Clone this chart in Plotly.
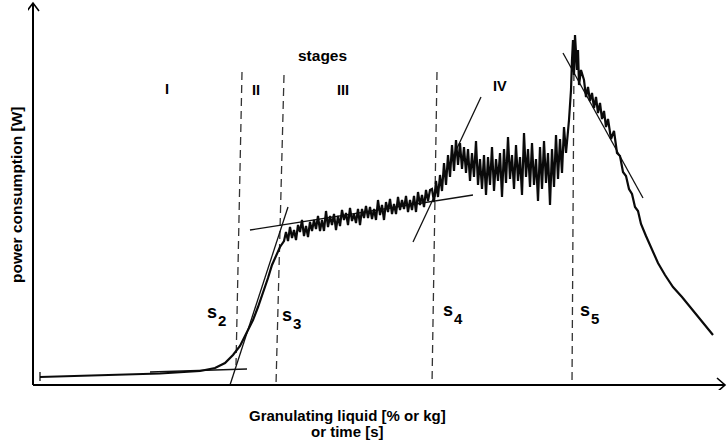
import plotly.graph_objects as go

# ---- data (arbitrary units: liquid amount / power) ----
# smooth part: stage I baseline and stage II rise
liq_rise = [7, 47, 87, 127, 167, 182, 192, 200, 207, 213, 220, 225, 230, 235, 239, 243, 247, 251]
pow_rise = [8, 9, 10, 11.5, 14, 17, 22, 30, 39, 51, 65, 78, 92, 107, 120, 130, 138, 144]

# stage III plateau (noisy)
liq_s3 = [253, 255, 257, 259, 261, 263, 265, 267, 269, 271, 273, 275, 277, 279, 281, 283, 285,
          287, 289, 291, 293, 295, 297, 299, 301, 303, 305, 307, 309, 311, 313, 315, 317, 319,
          321, 323, 325, 327, 329, 331, 333, 335, 337, 339, 341, 343, 345, 347, 349, 351, 353,
          355, 357, 359, 361, 363, 365, 367, 369, 371, 373, 375, 377, 379, 381, 383, 385, 387,
          389, 391, 393, 395, 397]
pow_s3 = [153, 144, 158, 147, 155, 145, 160, 153, 165, 149, 159, 148, 163, 154, 165, 156, 169,
          154, 165, 154, 174, 158, 169, 160, 171, 155, 169, 159, 175, 165, 172, 160, 177, 164,
          171, 162, 176, 160, 176, 167, 179, 167, 178, 166, 176, 165, 185, 170, 180, 165, 183,
          173, 186, 171, 181, 171, 188, 175, 185, 176, 189, 173, 185, 175, 189, 173, 193, 180,
          190, 178, 195, 184, 195]

# stage IV (noisy, higher)
liq_s4 = [399, 401, 403, 405, 407, 409, 411, 413, 415, 417, 419, 421, 423, 425, 427, 429, 431,
          433, 435, 437, 439, 441, 443, 445, 447, 449, 451, 453, 455, 457, 459, 461, 463, 465,
          467, 469, 471, 473, 475, 477, 479, 481, 483, 485, 487, 489, 491, 493, 495, 497, 499,
          501, 503, 505, 507, 509, 511, 513, 515, 517, 519, 521, 523, 525, 527, 529, 531, 533]
pow_s4 = [196, 183, 204, 188, 210, 194, 222, 200, 230, 208, 240, 214, 245, 220, 242, 216, 238,
          212, 236, 204, 232, 208, 244, 200, 226, 196, 230, 190, 228, 200, 238, 194, 226, 204,
          232, 188, 236, 202, 248, 206, 230, 196, 240, 204, 228, 190, 252, 208, 236, 198, 242,
          200, 226, 184, 238, 196, 244, 202, 232, 180, 236, 198, 250, 206, 246, 212, 258, 232]

# peak (stage V)
liq_peak = [536, 538, 539, 540, 541, 542, 544, 545, 546, 548]
pow_peak = [265, 295, 325, 345, 310, 350, 315, 335, 300, 315]

# decline after overwetting
liq_fall = [551, 553, 555, 557, 559, 561, 563, 565, 567, 569, 571, 573, 575, 578, 581, 584, 587,
            590, 593, 596, 599, 602, 605, 608, 613, 619, 625, 632, 640, 649, 657, 665, 673, 680]
pow_fall = [305, 288, 298, 284, 292, 277, 288, 272, 282, 266, 274, 258, 266, 246, 254, 232, 229,
            213, 209, 196, 191, 178, 174, 161, 149, 135, 122, 110, 98, 88, 78, 68, 58, 50]

# tangent lines (pairs of end points)
tangent_x = [[117, 214], [197, 255], [217, 440], [380, 448], [530, 610]]
tangent_y = [[13, 16], [0, 178], [155, 190], [143, 288], [332, 187]]

# stage boundaries s2..s5 (dashed)
bound_names = ["2", "3", "4", "5"]
bound_x = [[209, 203], [251, 243], [404, 399], [541, 539]]
bound_y = [[313, 20], [310, 0], [313, 0], [325, 0]]

stage_names = ["I", "II", "III", "IV"]

liquid = liq_rise + liq_s3 + liq_s4 + liq_peak + liq_fall
power = pow_rise + pow_s3 + pow_s4 + pow_peak + pow_fall

FONT = "Liberation Sans, Arial, Helvetica, sans-serif"

fig = go.Figure()

# dashed stage boundaries
for bx, by in zip(bound_x, bound_y):
    fig.add_trace(go.Scatter(x=bx, y=by, mode="lines",
                             line=dict(color="#333333", width=1.3, dash="8px,5px"),
                             hoverinfo="skip"))

# tangents
for tx, ty in zip(tangent_x, tangent_y):
    fig.add_trace(go.Scatter(x=tx, y=ty, mode="lines",
                             line=dict(color="#111111", width=1.3), hoverinfo="skip"))

# main curve
fig.add_trace(go.Scatter(x=liquid, y=power, mode="lines",
                         line=dict(color="#0a0a0a", width=2.2), hoverinfo="skip"))

shapes = []
# axes
shapes.append(dict(type="line", xref="x", yref="y", x0=0, y0=0, x1=0, y1=382,
                   line=dict(color="black", width=2)))
shapes.append(dict(type="line", xref="x", yref="y", x0=0, y0=0, x1=692, y1=0,
                   line=dict(color="black", width=2)))
# arrow heads (open chevrons)
shapes.append(dict(type="path", xref="x", yref="y", path="M -6,374 L 0,382 L 6,374",
                   line=dict(color="black", width=1.6)))
shapes.append(dict(type="path", xref="x", yref="y", path="M 684,7 L 692,0 L 684,-7",
                   line=dict(color="black", width=1.6)))
# small start mark on the curve
shapes.append(dict(type="line", xref="x", yref="y", x0=7, y0=4, x1=7, y1=13,
                   line=dict(color="black", width=1.2)))

ann = []


def txt(x, y, s, size=14):
    ann.append(dict(x=x, y=y, xref="x", yref="y", text="<b>" + s + "</b>", showarrow=False,
                    xanchor="center", yanchor="middle",
                    font=dict(family=FONT, size=size, color="black")))


txt(289, 330, "stages", 15.5)
for name, (lx, ly) in zip(stage_names, [(134, 296), (223, 295), (310, 295), (467, 299)]):
    txt(lx, ly, name, 14.5)

for name, (sx, sy) in zip(bound_names, [(179, 73), (254, 70), (415, 75), (552, 75)]):
    txt(sx, sy, "s", 18)
    txt(sx + 10, sy - 8, name, 15)


def ptxt(x, y, s, size=15, angle=0):
    ann.append(dict(x=x, y=y, xref="paper", yref="paper", text="<b>" + s + "</b>",
                    showarrow=False, xanchor="center", yanchor="middle", textangle=angle,
                    font=dict(family=FONT, size=size, color="black")))


# axis titles (paper coords: plot area spans px 28..728 horizontally, 0..390 vertically)
ptxt((347 - 28) / 700, (390 - 415) / 390, "Granulating liquid [% or kg]")
ptxt((347 - 28) / 700, (390 - 431) / 390, "or time [s]")
ptxt((16 - 28) / 700, (390 - 195) / 390, "power consumption [W]", size=15.5, angle=-90)

fig.update_layout(
    width=728, height=446,
    margin=dict(l=28, r=0, t=0, b=56),
    paper_bgcolor="white", plot_bgcolor="white",
    showlegend=False,
    xaxis=dict(range=[-5, 695], visible=False, fixedrange=True),
    yaxis=dict(range=[-5, 385], visible=False, fixedrange=True),
    shapes=shapes, annotations=ann,
)

fig.write_html("out.html")
